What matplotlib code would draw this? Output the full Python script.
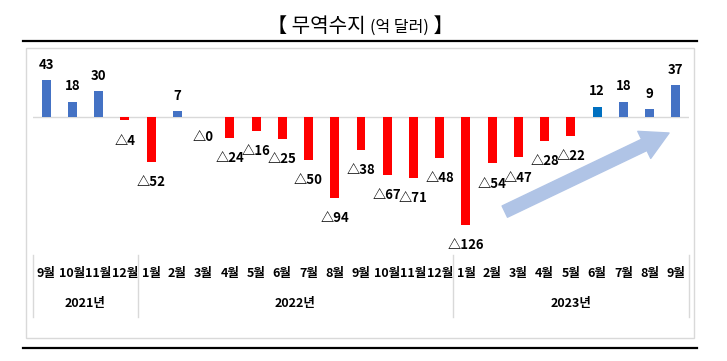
import matplotlib
matplotlib.use("Agg")
import matplotlib.pyplot as plt
from matplotlib.patches import Rectangle
from matplotlib.lines import Line2D

plt.rcParams['font.family'] = ['Noto Sans CJK KR', 'DejaVu Sans']

months = ['9월', '10월', '11월', '12월',
          '1월', '2월', '3월', '4월', '5월', '6월', '7월', '8월', '9월', '10월', '11월', '12월',
          '1월', '2월', '3월', '4월', '5월', '6월', '7월', '8월', '9월']
values = [43, 18, 30, -4,
          -52, 7, -0.3, -24, -16, -25, -50, -94, -38, -67, -71, -48,
          -126, -54, -47, -28, -22, 12, 18, 9, 37]
years = ['2021년', '2022년', '2023년']
year_counts = [4, 12, 9]

W, H = 727, 361
fig = plt.figure(figsize=(W / 100, H / 100), dpi=100)

def fx(px):
    return px / W

def fy(py):
    return 1 - py / H

# frame elements
fig.add_artist(Rectangle((fx(26), fy(338)), fx(694) - fx(26), fy(48) - fy(338),
                         transform=fig.transFigure, fill=False, edgecolor='#D9D9D9', lw=1.0))
fig.add_artist(Line2D([fx(23), fx(697)], [fy(40.5), fy(40.5)], transform=fig.transFigure,
                      color='black', lw=1.6))
fig.add_artist(Line2D([fx(23), fx(697)], [fy(348), fy(348)], transform=fig.transFigure,
                      color='black', lw=1.6))

# title
t1 = fig.text(fx(268), fy(26), '【 무역수지 ', fontsize=14.5, ha='left', va='center')
t2 = fig.text(0, 0, '(억 달러)', fontsize=11.5, ha='left', va='center')
t3 = fig.text(0, 0, ' 】', fontsize=14.5, ha='left', va='center')
fig.canvas.draw()
r = fig.canvas.get_renderer()
bb1 = t1.get_window_extent(r)
t2.set_position((bb1.x1 / W, fy(27)))
bb2 = t2.get_window_extent(r)
t3.set_position((bb2.x1 / W, fy(26)))
bb3 = t3.get_window_extent(r)
total = bb3.x1 - bb1.x0
shift = (360 - total / 2) - bb1.x0
for t in (t1, t2, t3):
    x, y = t.get_position()
    t.set_position((x + shift / W, y))

# axes
ax = fig.add_axes([fx(33), fy(255), fx(689) - fx(33), fy(48) - fy(255)])
ax.set_xlim(-0.5, len(values) - 0.5)
top, bottom = 48, 255
zero = 117
scale = 0.86
ax.set_ylim(-(bottom - zero) / scale, (zero - top) / scale)
ax.axis('off')

x = list(range(len(values)))
colors = []
for i, v in enumerate(values):
    if v >= 0:
        colors.append('#0070C0' if i == 21 else '#4472C4')
    else:
        colors.append('#FF0000')
ax.bar(x, values, width=0.34, color=colors, zorder=3)
ax.axhline(0, color='#D9D9D9', lw=1.0, zorder=1)

for i, v in enumerate(values):
    if v >= 0:
        lab = '%d' % round(v)
        off = 11
    else:
        lab = '△%d' % round(abs(v))
        off = -14.5
    ax.annotate(lab, xy=(i, v), xytext=(0, off), textcoords='offset points',
                ha='center', va='center', fontsize=9.5, fontweight='bold', color='black')

# arrow
ax.annotate('', xy=(23.74, -18.6), xytext=(17.48, -110),
            arrowprops=dict(arrowstyle='simple,head_length=1.1,head_width=1.2,tail_width=0.5',
                            color='#B0C4E6', shrinkA=0, shrinkB=0, mutation_scale=18),
            zorder=2)

# category table
trans = ax.get_xaxis_transform()
h = bottom - top
ymonth = -(273 - bottom) / h
yyear = -(303 - bottom) / h
ysep = -(317 - bottom) / h
for i, m in enumerate(months):
    ax.text(i, ymonth, m, transform=trans, ha='center', va='center',
            fontsize=9, fontweight='bold', clip_on=False)
start = 0
seps = [-0.5]
for yname, n in zip(years, year_counts):
    ax.text(start + (n - 1) / 2, yyear, yname, transform=trans, ha='center', va='center',
            fontsize=9, fontweight='bold', clip_on=False)
    start += n
    seps.append(start - 0.5)
for s in seps:
    ax.plot([s, s], [0, ysep], transform=trans, color='#D9D9D9', lw=1.0, clip_on=False)

fig.savefig('out.png', dpi=100)
